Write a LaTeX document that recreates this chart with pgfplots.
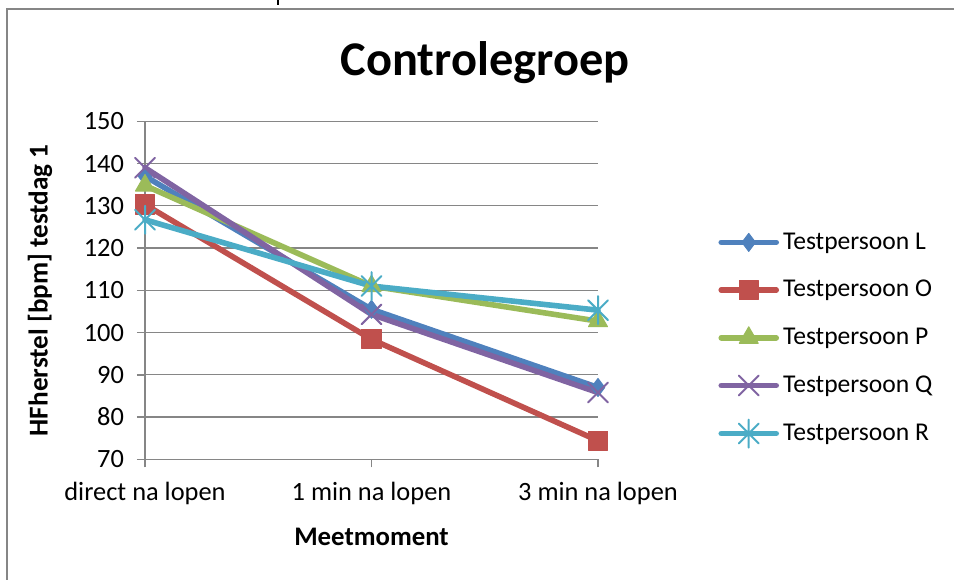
\documentclass[border=0pt]{standalone}
\usepackage{fontspec}
\setmainfont{Carlito}
\usepackage{pgfplots}
\pgfplotsset{compat=1.18}

\definecolor{xlblue}{HTML}{4F81BD}
\definecolor{xlred}{HTML}{C0504D}
\definecolor{xlgreen}{HTML}{9BBB59}
\definecolor{xlpurple}{HTML}{8064A2}
\definecolor{xlcyan}{HTML}{4BACC6}
\definecolor{xlgrid}{HTML}{868686}

% Excel-style star: an x with a vertical bar through it
\pgfdeclareplotmark{xstar}{%
  \pgfpathmoveto{\pgfpoint{-.7071\pgfplotmarksize}{-.7071\pgfplotmarksize}}%
  \pgfpathlineto{\pgfpoint{.7071\pgfplotmarksize}{.7071\pgfplotmarksize}}%
  \pgfpathmoveto{\pgfpoint{-.7071\pgfplotmarksize}{.7071\pgfplotmarksize}}%
  \pgfpathlineto{\pgfpoint{.7071\pgfplotmarksize}{-.7071\pgfplotmarksize}}%
  \pgfpathmoveto{\pgfpoint{0pt}{-\pgfplotmarksize}}%
  \pgfpathlineto{\pgfpoint{0pt}{\pgfplotmarksize}}%
  \pgfusepathqstroke}

\begin{document}
\begin{tikzpicture}
\useasboundingbox (0,0) rectangle (477pt,289.5pt);
% chart frame (cut off at right and bottom)
\draw[xlgrid, line width=0.9pt] (3.5pt,-2pt) -- (3.5pt,285pt) -- (480pt,285pt);
\draw[black, line width=0.6pt] (139pt,289.5pt) -- (139pt,287pt);

\begin{axis}[
  at={(72.5pt,59.85pt)}, anchor=south west,
  scale only axis, width=226.5pt, height=169pt,
  xmin=0, xmax=2, ymin=70, ymax=150,
  xtick={0,1,2},
  xticklabels={direct na lopen, 1 min na lopen, 3 min na lopen},
  ytick={70,80,...,150},
  axis lines=left,
  axis line style={-, draw=xlgrid, line width=0.8pt},
  tick style={draw=xlgrid, line width=0.8pt},
  major tick length=4pt,
  tick align=outside,
  ymajorgrids, major grid style={xlgrid, line width=0.6pt},
  clip=false,
  /pgf/number format/assume math mode=true,
  ticklabel style={font=\fontsize{13.2}{15}\selectfont},
  yticklabel style={xshift=-3pt},
  xticklabel style={yshift=-4pt},
  title={Controlegroep},
  title style={at={(axis description cs:0.7506,1.139)}, anchor=center, font=\fontsize{24.2}{28}\selectfont\bfseries},
  xlabel={Meetmoment},
  xlabel style={at={(axis description cs:0.5,-0.2297)}, anchor=center, font=\fontsize{13.4}{15}\selectfont\bfseries},
  ylabel={HFherstel [bpm] testdag 1},
  ylabel style={at={(axis description cs:-0.232,0.5)}, anchor=center, font=\fontsize{13.6}{15}\selectfont\bfseries},
  legend style={at={(axis description cs:1.265,0.3586)}, anchor=west, draw=none, fill=none,
    font=\fontsize{12.8}{15}\selectfont, row sep=10.1pt, inner sep=0pt},
  legend cell align=left,
  legend image code/.code={\draw[mark repeat=2, mark phase=2, #1] plot coordinates {(0pt,0pt) (13.75pt,0pt) (27.5pt,0pt)};},
  every axis plot/.append style={line width=2.8pt, line join=round, line cap=round},
]
\addplot[xlblue, mark=diamond*, mark size=4.5pt, mark options={solid, line width=0.5pt}]
  coordinates {(0,137) (1,105.5) (2,87)};
\addplot[xlred, mark=square*, mark size=4.8pt, mark options={solid, line width=0.5pt}]
  coordinates {(0,130.3) (1,98.4) (2,74.4)};
\addplot[xlgreen, mark=triangle*, mark size=5.5pt, mark options={solid, line width=0.5pt}]
  coordinates {(0,134.8) (1,111) (2,102.7)};
\addplot[xlpurple, mark=x, mark size=7pt, mark options={solid, line width=1pt}]
  coordinates {(0,139) (1,104.3) (2,85.8)};
\addplot[xlcyan, mark=xstar, mark size=7pt, mark options={solid, line width=1pt}]
  coordinates {(0,126.7) (1,111) (2,105.3)};
\legend{Testpersoon L, Testpersoon O, Testpersoon P, Testpersoon Q, Testpersoon R}
\end{axis}
\end{tikzpicture}
\end{document}
